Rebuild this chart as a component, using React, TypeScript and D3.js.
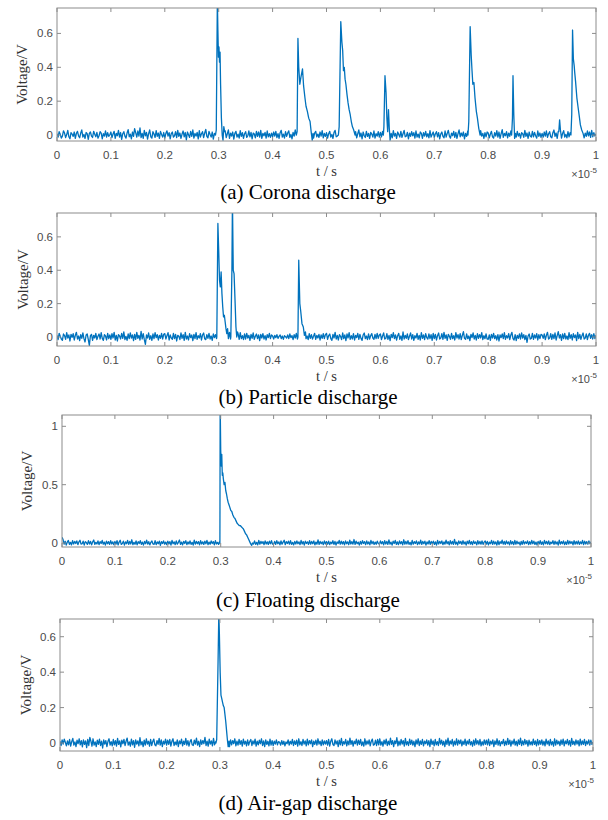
import React from 'react';
import * as d3 from 'd3';

// time axis in units of 1e-5 s
const xTicks = [0, 0.1, 0.2, 0.3, 0.4, 0.5, 0.6, 0.7, 0.8, 0.9, 1];
const yTicksSmall = [0, 0.2, 0.4, 0.6];
const yTicksLarge = [0, 0.5, 1];

// background noise, evenly sampled over the 0..1 (x1e-5 s) record, values in mV
const noiseA = [
  8, -12, 20, 5, -18, -6, 25, 12, -15, 3, 28, -10, -22, 14, 6, -8, 18, -20, 10, 22, -5, -16, 12, 30, -12, 4, -20, 15, 8, -25, 10, 18, -6, -14, 22, 5, -10, 16, -18, -4, 20, 12, -22, 8, -6, 25, -12, 14, -8, 2,
  18, -15, 6, 22, -20, 10, -4, 28, -12, 15, -25, 8, 20, -6, -18, 12, 32, -10, 5, -22, 18, -8, 38, 14, -12, 24, -6, 42, -15, 10, -20, 28, -4, 16, -24, 8, 30, -10, -18, 20, 6, -14, 26, -8, 12, -20, 22, 4, -12, 15,
  -18, 10, 25, -6, 14, -22, 8, 18, -12, -4, 20, -15, 28, -8, 12, -20, 6, 24, -10, 15, -28, 18, 2, -14, 22, -8, 30, -18, 10, -6, 16, -22, 26, -12, 8, 20, -15, 12, 34, -8, -16, 22, 4, -12, 18, -24, 10, -6, 14, -10,
  15, -8, 22, -18, 40, -10, 25, -15, 8, 30, -20, 12, -6, 18, -24, 10, 22, -12, 5, -18, 26, -8, 14, -20, 8, 20, -14, -4, 24, -10, 16, -22, 12, 6, -16, 22, -8, 18, -12, 28, -20, 10, -4, 16, -18, 24, -10, 8, -14, 12,
  -10, 18, -6, 22, -15, 8, -20, 14, 28, -12, 6, -18, 20, -8, 12, 25, -14, 4, -22, 16, -6, 30, -10, 14, -16, 35, -8, 20, -12, 6, 18, -20, 10, -4, 24, -12, 16, -8, -18, 12, 22, -10, 6, -14, 18, -6, 26, -16, 10, -8,
  14, -18, 8, 22, -12, 4, -20, 16, 28, -10, -6, 18, -22, 12, 6, -14, 24, -8, 16, -20, 10, 26, -12, 4, -18, 14, -6, 20, -16, 8, 30, -10, 12, -22, 18, -4, -14, 22, -8, 10, -20, 16, 6, -12, 24, -18, 8, -6, 20, -12,
  16, -10, 22, -4, -18, 12, 8, -24, 18, -8, 14, -16, 26, -6, 10, -20, 18, 4, -12, 22, -14, 8, 28, -10, -6, 16, -22, 12, -8, 20, -4, 14, -18, 24, -12, 6, -16, 18, 10, -20, 14, -6, 22, -10, 8, -16, 26, -12, 4, 18,
  -14, 8, 20, -10, 14, -22, 6, 18, -8, -16, 24, -12, 10, 28, -6, -18, 12, -4, 22, -14, 16, -20, 8, 30, -10, 12, -6, 18, -22, 10, -8, 24, -14, 6, 20, -12, -4, 16, -18, 22, -8, 12, -16, 26, -6, 10, -20, 14, -10, 18,
  12, -16, 6, 22, -10, -18, 14, -6, 26, -12, 18, -20, 8, 32, -14, 10, -4, 20, -16, 12, -8, 24, -10, 6, -20, 16, -12, 22, -6, 10, -18, 14, 8, -14, 28, -8, 12, -20, 18, -6, -12, 22, -10, 16, -4, -18, 24, -8, 12, -14,
  10, -12, 18, -6, 24, -14, 8, 20, -10, -16, 14, 30, -8, 12, -20, 22, -6, 16, -18, 10, 26, -12, 4, -16, 20, -10, 14, 36, -8, 18, -14, 26, -6, 22, -12, 40, -10, 16, 30, -16, 12, -8, 24, -4, 18, -14, 28, -10, 14, -6,
  8,
];

const noiseB = [
  10, -16, 22, 4, -12, -20, 18, 8, -14, 26, -6, 12, -24, 16, -2, 20, -18, 10, 28, -12, 6, -22, 14, -8, 24, -10, -30, 12, 18, -14, -50, 8, 16, -20, 10, -6, 22, -16, 4, 18, -12, 26, -8, -20, 14, 6, -18, 22, -10, 12,
  -14, 20, -6, 28, -18, 10, -24, 14, 6, -12, 22, -8, 30, -16, 4, -20, 18, -10, 24, -6, 12, -22, 16, -14, 28, -8, 10, -18, 34, -12, 20, -16, -44, 12, -6, 24, -14, 8, -20, 18, -10, 26, -4, 14, -18, 10, -8, 22, -12, 16,
  20, -12, 8, 26, -18, 12, -6, -14, 22, -10, 16, -24, 10, 4, -16, 24, -8, 14, -20, 28, -12, 6, -18, 20, -4, 12, -22, 16, -10, 26, -14, 8, -6, 20, -18, 12, 24, -10, -16, 14, -8, 22, -12, 6, -20, 18, -4, 14, -10, 22,
  -10, 16, -20, 8, 24, -14, 6, -22, 18, -8, 28, -12, 14, -6, 22, -18, 10, -4, 20, -14, 26, -10, 8, -16, 18, -12, 22, -6, 10, -20, 16, -8, 24, -14, 4, 18, -10, 12, -22, 16, -6, 20, -12, 8, -18, 14, -4, 22, -10, 12,
  6, -12, 10, -4, 14, -8, 4, 12, -10, 6, -14, 8, 2, -6, 12, -10, 18, -4, 8, -16, 14, -6, 22, -12, 10, -8, 26, -14, 12, -4, 18, -10, 6, -16, 20, -8, 14, -12, 4, 22, -14, 10, -6, 16, -18, 12, -8, 20, -10, 14,
  22, -14, 8, 18, -10, -20, 16, -6, 28, -12, 10, -18, 14, 4, -16, 24, -10, 12, -22, 18, -6, 26, -14, 8, -12, 20, -18, 10, -4, 22, -14, 16, -8, -20, 12, 24, -10, 6, -16, 18, -12, 8, 20, -6, -14, 16, -10, 22, -8, 12,
  18, -16, 6, 24, -12, -8, 20, -14, 10, -22, 16, -4, 26, -10, 12, -18, 8, 22, -14, 6, -20, 30, -12, 10, -8, 18, -16, 4, 24, -12, 14, -20, 8, -6, 22, -14, 10, -18, 26, -8, 12, -16, 20, -4, -12, 18, -10, 14, -20, 22,
  -10, 16, -18, 8, 24, -12, -6, 20, -14, 28, -8, 12, -20, 16, 4, -14, 22, -10, 8, -18, 26, -6, 14, -12, 20, -16, 10, 32, -8, -14, 18, -10, 6, -22, 16, -4, 24, -12, 10, -18, 20, -8, 14, -6, 26, -16, 8, -10, 18, -12,
  -14, 12, -20, 16, -6, 22, -10, 8, -18, 14, -24, 12, -4, 18, -10, 26, -14, 8, -6, 20, -16, 12, 28, -10, -18, 14, -22, 10, -8, 18, -12, 24, -6, 14, -16, 10, -32, 6, 18, -12, -8, 22, -14, 12, -6, 20, -18, 14, -10, 16,
  12, -8, 18, -16, 10, 28, -12, -6, 20, -14, 16, -10, 24, -18, 8, 32, -6, 14, -20, 18, -10, 22, -12, 6, -16, 26, -8, 14, -18, 20, -4, 12, -22, 28, -10, 16, -14, 8, 24, -12, -6, 18, -16, 10, 22, -8, 14, -12, 20, -10,
  10,
];

const noiseC = [
  50, 30, -10, 15, -18, 8, 22, -12, 6, -16, 20, -8, 14, -4, 18, -14, 10, 24, -10, -6, 16, -18, 12, 4, -12, 20, -8, 14, -16, 10, 26, -12, 6, -8, 18, -14, 12, -4, 22, -10, 8, -18, 16, -6, 12, -12, 20, -8, 10, -14,
  14, -10, 20, -16, 8, 24, -12, -4, 16, -18, 10, -6, 22, -12, 14, -8, 28, -14, 6, -10, 18, -16, 12, -4, 20, -12, 8, -18, 14, -6, 24, -10, 12, -16, 6, 18, -8, -12, 20, -14, 10, -6, 16, -20, 12, -4, 18, -10, 8, -14,
  16, -8, 12, -18, 22, -6, 10, -14, 18, -10, 6, 26, -12, 8, -16, 14, -4, 20, -14, 10, -8, 18, -12, 6, -18, 24, -10, 14, -6, 12, -16, 20, -8, 10, -12, 16, -6, 22, -14, 8, -10, 18, -4, 12, -16, 20, -8, 6, -12, 14,
  10, -12, 18, -6, 14, -16, 8, -10, 20, -14, 12, -4, 16, -12, 22, -8, 10, -18, 14, -6, 18, -12, 8, -16, 20, -10, 12, -6, 16, -14, 10, -8, 18, -12, 6, -16, 22, -10, 14, -4, 12, -14, 18, -8, 10, -12, 16, -6, 20, -10,
  -8, 14, -12, 20, -6, 10, -16, 18, -10, 8, 24, -14, 12, -4, 16, -10, 20, -12, 6, -16, 14, -8, 18, -6, 10, -14, 22, -8, 12, -18, 16, -4, 10, -12, 20, -10, 14, -6, 18, -16, 8, -10, 26, -12, 14, -6, 10, -14, 18, -8,
  12, -10, 16, -14, 8, -6, 20, -12, 14, -18, 10, -4, 22, -10, 16, -8, 12, -16, 18, -6, 10, -14, 24, -8, 12, -10, 30, -12, 16, -6, 8, -18, 14, -10, 20, -4, 12, -14, 18, -8, 10, -16, 22, -6, 14, -12, 8, -10, 16, -4,
  -10, 18, -6, 12, -16, 20, -8, 14, -12, 26, -10, 8, -18, 16, -4, 22, -12, 10, -14, 18, -6, 12, -16, 28, -10, 14, -8, 20, -12, 6, -16, 22, -10, 12, -4, 18, -14, 10, -8, 24, -12, 14, -6, 16, -18, 10, -8, 20, -12, 14,
  -6, 16, -12, 10, -18, 22, -8, 14, -4, 18, -14, 10, -10, 24, -6, 12, -16, 20, -8, 14, -12, 32, -10, 8, -16, 18, -4, 14, -12, 20, -8, 10, -18, 16, -6, 22, -10, 12, -14, 18, -4, 10, -16, 20, -8, 14, -10, 18, -12, 8,
  18, -10, 14, -16, 8, -6, 22, -12, 16, -8, 10, -18, 20, -14, 12, -4, 24, -10, 14, -12, 18, -6, 10, -16, 20, -8, 12, -14, 22, -10, 16, -6, 8, -18, 14, -12, 20, -8, 10, -4, 18, -14, 12, -10, 22, -6, 16, -12, 8, -16,
  14, -8, 20, -12, 10, -16, 22, -6, 14, -10, 18, -14, 8, -4, 20, -12, 16, -8, 10, -18, 24, -10, 12, -6, 18, -14, 10, -12, 22, -8, 16, -4, 12, -16, 20, -10, 14, -8, 18, -12, 10, -6, 22, -14, 16, -8, 12, -10, 18, -6,
  10,
];

const noiseD = [
  10, -14, 18, -6, 22, 4, -16, 12, -10, 20, -18, 8, 26, -12, 6, -20, 16, -4, 24, -10, 14, -22, 18, -8, 12, -26, 20, -14, 32, 10, -18, 24, -12, 6, -20, 16, -8, 22, -14, 10, -28, 18, -6, 14, -20, 10, 24, -12, 8, -16,
  20, -10, 14, -18, 26, -8, 12, -22, 16, -4, 20, -14, 10, 28, -12, 6, -18, 22, -10, 14, -24, 18, -6, 12, -16, 30, -10, 8, -20, 16, -12, 24, -6, 10, -18, 20, -14, 8, 22, -10, -16, 14, -8, 26, -12, 18, -20, 10, -6, 22,
  -12, 16, -8, 20, -18, 10, 24, -14, 6, -10, 18, -20, 12, -4, 22, -16, 10, -8, 26, -12, 14, -18, 8, 20, -10, -14, 16, -6, 28, -12, 10, -20, 18, -8, 14, -4, 32, -14, 10, -18, 22, -6, 12, -16, 26, -10, 8, -12, 18, -14,
  16, -10, 22, -14, 8, -18, 26, -6, 12, -20, 18, -10, 14, -4, 24, -16, 10, -12, 20, -8, 14, -18, 22, -6, 10, -16, 18, -12, 8, 20, -14, 12, -6, 22, -18, 10, -10, 16, -4, 24, -14, 12, -20, 18, -8, 10, -16, 22, -12, 14,
  -14, 10, -6, 18, -10, 8, 4, -12, 14, -8, 10, -16, 6, -4, 18, -12, 10, -6, 20, -14, 12, -8, 16, -18, 24, -10, 8, -14, 20, -6, 12, -16, 22, -10, 14, -4, 18, -20, 10, -8, 16, -12, 24, -6, 10, -14, 18, -10, 12, -6,
  14, -12, 20, -18, 10, 24, -8, -14, 18, -6, 12, -20, 16, -10, 26, -14, 8, -6, 20, -16, 12, -10, 28, -8, 14, -18, 10, -4, 22, -12, 16, -8, 20, -14, 6, -18, 24, -10, 12, -6, 18, -16, 10, 22, -12, -8, 16, -14, 20, -10,
  24, -12, 8, -18, 16, -6, 22, -14, 10, -10, 28, -8, 14, -20, 12, -4, 30, -16, 10, -12, 20, -6, 14, -18, 26, -10, 8, -14, 22, -8, 16, -12, 10, -20, 18, -6, 24, -14, 12, -8, 20, -16, 10, -4, 18, -12, 14, -20, 22, -8,
  12, -16, 20, -10, 8, -14, 26, -6, 16, -12, 10, -20, 18, -8, 28, -14, 12, -6, 20, -18, 10, -10, 24, -12, 16, -4, 18, -16, 10, -8, 22, -14, 12, -6, 20, -10, 8, -18, 16, -12, 24, -6, 14, -10, 20, -16, 8, -12, 18, -8,
  16, -10, 22, -14, 10, -6, 18, -20, 12, -8, 24, -12, 14, -16, 8, -4, 20, -14, 10, -10, 26, -8, 16, -18, 12, -6, 22, -12, 10, -16, 18, -8, 28, -14, 12, -10, 20, -6, 14, -18, 16, -10, 8, -12, 22, -8, 12, -16, 20, -10,
  14, -8, 18, -12, 10, -16, 22, -6, 12, -14, 20, -10, 8, -18, 24, -12, 16, -6, 10, -14, 18, -8, 22, -16, 12, -4, 20, -10, 14, -18, 26, -8, 10, -12, 18, -6, 14, -16, 22, -10, 12, -8, 20, -14, 10, -6, 18, -12, 16, -8,
  6,
];

// discharge pulses: [t (x1e-5 s), voltage (V)]
const pulsesA = [
  [[0.294, 0], [0.2955, 0.03], [0.2975, 0.8], [0.2985, 0.62], [0.2995, 0.46], [0.3005, 0.52], [0.3015, 0.43], [0.3025, 0.49], [0.3035, 0.3], [0.305, 0.1], [0.3065, 0], [0.308, -0.03], [0.3095, 0.05], [0.311, 0.02]],
  [[0.444, 0], [0.4455, 0.02], [0.447, 0.57], [0.4485, 0.4], [0.4505, 0.3], [0.4525, 0.34], [0.4555, 0.39], [0.4575, 0.29], [0.46, 0.22], [0.462, 0.17], [0.4645, 0.14], [0.467, 0.1], [0.4695, 0.08], [0.4715, 0.02], [0.4735, -0.03], [0.475, 0.01]],
  [[0.522, 0], [0.5235, 0.05], [0.5265, 0.67], [0.5285, 0.55], [0.53, 0.5], [0.5315, 0.38], [0.533, 0.4], [0.5345, 0.33], [0.536, 0.3], [0.538, 0.24], [0.54, 0.19], [0.542, 0.15], [0.544, 0.12], [0.546, 0.08], [0.548, 0.05], [0.5505, 0.03], [0.553, 0]],
  [[0.6055, 0], [0.6065, 0.05], [0.6085, 0.35], [0.6105, 0.25], [0.612, 0.1], [0.6135, 0.02], [0.615, 0.15], [0.6165, 0.04], [0.618, -0.03], [0.62, 0.01]],
  [[0.7625, 0], [0.764, 0.08], [0.7665, 0.64], [0.7685, 0.47], [0.77, 0.38], [0.7715, 0.3], [0.7735, 0.31], [0.7755, 0.22], [0.778, 0.14], [0.78, 0.1], [0.7825, 0.04], [0.785, 0]],
  [[0.8435, 0], [0.845, 0.1], [0.846, 0.35], [0.8475, 0.12], [0.849, -0.02], [0.8505, 0.01]],
  [[0.931, 0.02], [0.9325, 0.09], [0.934, 0.03]],
  [[0.9535, 0], [0.955, 0.12], [0.9565, 0.62], [0.958, 0.45], [0.9595, 0.41], [0.9605, 0.37], [0.962, 0.32], [0.9645, 0.22], [0.9665, 0.17], [0.969, 0.11], [0.971, 0.06], [0.9735, 0.03], [0.976, 0.01]],
];

const pulsesB = [
  [[0.2965, 0], [0.2985, 0.68], [0.3, 0.52], [0.3015, 0.34], [0.303, 0.3], [0.3045, 0.39], [0.306, 0.26], [0.3075, 0.18], [0.309, 0.12], [0.3105, 0.13], [0.312, 0.09], [0.3135, 0.05], [0.315, 0.02], [0.3165, 0.05], [0.318, -0.01]],
  [[0.3225, 0], [0.3245, 0.4], [0.3255, 0.82], [0.327, 0.4], [0.3285, 0.38], [0.3305, 0.2], [0.332, 0.06], [0.3335, 0], [0.335, 0.03]],
  [[0.447, 0], [0.4485, 0.46], [0.4505, 0.2], [0.452, 0.16], [0.4545, 0.08], [0.457, 0.06], [0.459, 0.01], [0.461, 0.03]],
];

const pulsesC = [
  [[0.2985, 0], [0.299, 1.2], [0.3, 0.8], [0.301, 0.66], [0.302, 0.76], [0.303, 0.58], [0.304, 0.6], [0.305, 0.55], [0.3065, 0.5], [0.308, 0.52], [0.3095, 0.45], [0.311, 0.42], [0.3125, 0.38], [0.314, 0.35], [0.3155, 0.33], [0.317, 0.31], [0.319, 0.28], [0.321, 0.27], [0.323, 0.24], [0.325, 0.22], [0.327, 0.21], [0.329, 0.19], [0.331, 0.17], [0.333, 0.16], [0.335, 0.15], [0.337, 0.15], [0.339, 0.14], [0.341, 0.13], [0.343, 0.12], [0.345, 0.1], [0.347, 0.08], [0.349, 0.07], [0.351, 0.05], [0.353, 0.03], [0.355, 0.01], [0.357, -0.01], [0.3586, -0.02], [0.36, 0]],
];

const pulsesD = [
  [[0.2925, 0], [0.294, 0.02], [0.2965, 0.45], [0.298, 0.74], [0.299, 0.62], [0.3005, 0.4], [0.302, 0.27], [0.3035, 0.25], [0.305, 0.23], [0.3065, 0.21], [0.308, 0.2], [0.3095, 0.16], [0.311, 0.12], [0.3125, 0.07], [0.314, 0.02], [0.3155, -0.02], [0.317, 0.01]],
];

const panels = [
  { id: 'a', caption: '(a) Corona discharge', noise: noiseA, pulses: pulsesA, yDomain: [-0.035, 0.75], yTicks: yTicksSmall, left: 57, right: 596, top: 8, bottom: 141, labelX: 22, captionY: 199 },
  { id: 'b', caption: '(b) Particle discharge', noise: noiseB, pulses: pulsesB, yDomain: [-0.054, 0.743], yTicks: yTicksSmall, left: 57, right: 596, top: 213, bottom: 346, labelX: 23, captionY: 404 },
  { id: 'c', caption: '(c) Floating discharge', noise: noiseC, pulses: pulsesC, yDomain: [-0.034, 1.097], yTicks: yTicksLarge, left: 62, right: 591, top: 415, bottom: 547, labelX: 27, captionY: 607 },
  { id: 'd', caption: '(d) Air-gap discharge', noise: noiseD, pulses: pulsesD, yDomain: [-0.045, 0.7], yTicks: yTicksSmall, left: 60, right: 593, top: 619, bottom: 751, labelX: 26, captionY: 810 },
];

function buildSeries(noise, pulses) {
  const step = 1 / (noise.length - 1);
  const windows = pulses.map(p => [p[0][0], p[p.length - 1][0]]);
  const base = noise
    .map((mv, i) => [i * step, mv / 1000])
    .filter(([t]) => !windows.some(([a, b]) => t >= a && t <= b));
  return [...base, ...pulses.flat()].sort((a, b) => a[0] - b[0]);
}

const axisColor = '#8c8c8c';
const textGray = '#4a4a4a';
const sansFont = 'Liberation Sans';
const serifFont = 'Liberation Serif';

function Panel({ p }) {
  const x = d3.scaleLinear().domain([0, 1]).range([p.left, p.right]);
  const y = d3.scaleLinear().domain(p.yDomain).range([p.bottom, p.top]);
  const series = buildSeries(p.noise, p.pulses);
  const line = d3.line().x(d => x(d[0])).y(d => y(d[1]));
  const clipId = `clip-${p.id}`;
  const tl = 4;

  return (
    <g>
      <clipPath id={clipId}>
        <rect x={p.left} y={p.top} width={p.right - p.left} height={p.bottom - p.top} />
      </clipPath>
      <path d={line(series)} fill="none" stroke="#0072BD" strokeWidth={1.3} strokeLinejoin="round" clipPath={`url(#${clipId})`} />
      <rect x={p.left} y={p.top} width={p.right - p.left} height={p.bottom - p.top} fill="none" stroke={axisColor} strokeWidth={1} />
      {xTicks.map(t => (
        <g key={`x${t}`}>
          <line x1={x(t)} x2={x(t)} y1={p.bottom} y2={p.bottom - tl} stroke={axisColor} />
          <line x1={x(t)} x2={x(t)} y1={p.top} y2={p.top + tl} stroke={axisColor} />
          <text x={x(t)} y={p.bottom + 18} textAnchor="middle" style={{ fontFamily: sansFont }} fontSize={11.5} fill={textGray}>{String(t)}</text>
        </g>
      ))}
      {p.yTicks.map(v => (
        <g key={`y${v}`}>
          <line x1={p.left} x2={p.left + tl} y1={y(v)} y2={y(v)} stroke={axisColor} />
          <line x1={p.right} x2={p.right - tl} y1={y(v)} y2={y(v)} stroke={axisColor} />
          <text x={p.left - 4} y={y(v) + 4} textAnchor="end" style={{ fontFamily: sansFont }} fontSize={11.5} fill={textGray}>{String(v)}</text>
        </g>
      ))}
      <text transform={`translate(${p.labelX},${(p.top + p.bottom) / 2}) rotate(-90)`} textAnchor="middle" dy="0.35em" style={{ fontFamily: serifFont }} fontSize={15} fill="#333">Voltage/V</text>
      <text x={(p.left + p.right) / 2} y={p.bottom + 35} textAnchor="middle" style={{ fontFamily: serifFont }} fontSize={14.5} fill="#333">t / s</text>
      <text x={p.right + 1} y={p.bottom + 37} textAnchor="end" style={{ fontFamily: sansFont }} fontSize={11} fill={textGray}>
        ×10<tspan fontSize={8} dy={-5}>-5</tspan>
      </text>
      <text x={308} y={p.captionY} textAnchor="middle" style={{ fontFamily: serifFont }} fontSize={21} fill="#000">{p.caption}</text>
    </g>
  );
}

export default function App() {
  return (
    <svg width={608} height={820} style={{ position: 'absolute', left: 0, top: 0, background: '#fff' }}>
      {panels.map(p => <Panel key={p.id} p={p} />)}
    </svg>
  );
}
